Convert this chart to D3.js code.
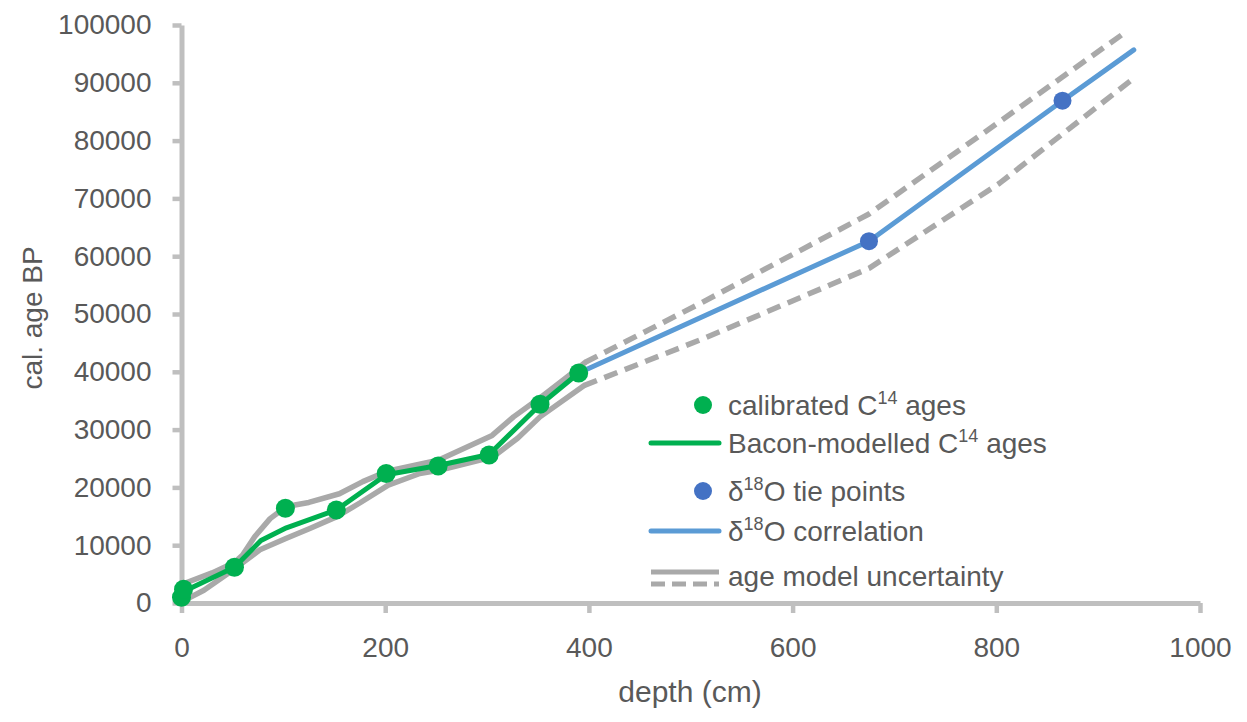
<!DOCTYPE html>
<html>
<head>
<meta charset="utf-8">
<script src="https://cdn.jsdelivr.net/npm/d3@7"></script>
<style>
  html, body { margin: 0; padding: 0; background: #ffffff; }
  svg { display: block; font-family: "Liberation Sans", Arial, sans-serif; }
</style>
</head>
<body>
<svg id="chart" width="1247" height="722"></svg>
<script>
// ---------------- data ----------------
const xTicks = [0, 200, 400, 600, 800, 1000];
const yTicks = [0, 10000, 20000, 30000, 40000, 50000, 60000, 70000, 80000, 90000, 100000];

// calibrated C14 ages (green dots)
const c14Depth = [0, 2, 52, 102, 152, 201, 252, 302, 352, 390];
const c14Age   = [1000, 2400, 6200, 16400, 16100, 22400, 23700, 25600, 34400, 39800];

// Bacon-modelled C14 ages (green line)
const baconDepth = [0, 52, 78, 103, 152, 201, 252, 302, 352, 390];
const baconAge   = [1800, 6200, 10800, 13000, 16100, 22200, 23800, 25700, 34300, 39800];

// d18O tie points (blue dots)
const tieDepth = [675, 865];
const tieAge   = [62600, 86900];

// d18O correlation (blue line)
const corrDepth = [390, 675, 865, 935];
const corrAge   = [39800, 62600, 86900, 95700];

// age model uncertainty, C14 part (solid grey)
const upperDepth = [0, 30, 52, 60, 72, 87, 103, 125, 155, 178, 202, 252, 305, 326, 352, 385, 396];
const upperAge   = [3200, 5200, 7000, 8300, 11500, 14600, 16700, 17400, 18900, 21000, 22800, 24700, 29000, 32200, 35500, 40000, 41600];
const lowerDepth = [0, 22, 52, 77, 103, 126, 152, 175, 203, 234, 254, 306, 330, 352, 395];
const lowerAge   = [200, 2200, 5900, 9200, 11200, 12900, 14900, 17300, 20400, 22400, 23000, 25300, 28500, 32200, 37600];

// age model uncertainty, d18O part (dashed grey)
const upperDashDepth = [396, 509, 675, 805, 928];
const upperDashAge   = [41600, 51800, 67300, 83500, 98900];
const lowerDashDepth = [395, 509, 563, 675, 803, 935];
const lowerDashAge   = [37600, 45500, 49500, 57900, 72600, 90800];

// legend
const legendLabels = [
  ["calibrated C", "14", " ages"],
  ["Bacon-modelled C", "14", " ages"],
  ["δ", "18", "O tie points"],
  ["δ", "18", "O correlation"],
  ["age model uncertainty", "", ""]
];

// ---------------- styles ----------------
const TEXT = "#595959";
const AXIS = "#bfbfbf";
const UNC = "#a9a9a9";
const GREEN = "#00b050";
const BLUE_LINE = "#5b9bd5";
const BLUE_DOT = "#4472c4";

const svg = d3.select("#chart");

const x = d3.scaleLinear().domain([0, 1000]).range([181.5, 1200]);
const y = d3.scaleLinear().domain([0, 100000]).range([603, 25]);

const zip = (a, b) => a.map((d, i) => [d, b[i]]);
const line = d3.line().x(d => x(d[0])).y(d => y(d[1]));

// ---------------- axes ----------------
const xAxis = svg.append("g")
  .attr("transform", `translate(0,${y(0)})`)
  .call(d3.axisBottom(x).tickValues(xTicks).tickFormat(d3.format("d"))
        .tickSize(10).tickSizeOuter(0).tickPadding(24));
const yAxis = svg.append("g")
  .attr("transform", `translate(${x(0)},0)`)
  .call(d3.axisLeft(y).tickValues(yTicks).tickFormat(d3.format("d"))
        .tickSize(9).tickSizeOuter(0).tickPadding(21));

[xAxis, yAxis].forEach(g => {
  g.select(".domain").attr("stroke", AXIS).attr("stroke-width", 5);
  g.selectAll(".tick line").attr("stroke", AXIS).attr("stroke-width", 4.5);
  g.selectAll(".tick text").attr("fill", TEXT)
    .style("font-size", "28px").style("font-family", "'Liberation Sans', Arial, sans-serif");
});

// axis titles
svg.append("text")
  .attr("x", 690).attr("y", 702)
  .attr("text-anchor", "middle")
  .attr("fill", TEXT).style("font-size", "30px")
  .text("depth (cm)");
svg.append("text")
  .attr("transform", "translate(42,318) rotate(-90)")
  .attr("text-anchor", "middle")
  .attr("fill", TEXT).style("font-size", "28px")
  .text("cal. age BP");

// ---------------- series ----------------
const plot = svg.append("g");

// uncertainty solid
[zip(upperDepth, upperAge), zip(lowerDepth, lowerAge)].forEach(pts => {
  plot.append("path").datum(pts).attr("d", line)
    .attr("fill", "none").attr("stroke", UNC).attr("stroke-width", 5.5)
    .attr("stroke-linejoin", "round").attr("stroke-linecap", "round");
});
// uncertainty dashed
[zip(upperDashDepth, upperDashAge), zip(lowerDashDepth, lowerDashAge)].forEach(pts => {
  plot.append("path").datum(pts).attr("d", line)
    .attr("fill", "none").attr("stroke", UNC).attr("stroke-width", 5.5)
    .attr("stroke-dasharray", "14,8").attr("stroke-linejoin", "round");
});

// Bacon model line
plot.append("path").datum(zip(baconDepth, baconAge)).attr("d", line)
  .attr("fill", "none").attr("stroke", GREEN).attr("stroke-width", 5)
  .attr("stroke-linejoin", "round").attr("stroke-linecap", "round");

// d18O correlation line
plot.append("path").datum(zip(corrDepth, corrAge)).attr("d", line)
  .attr("fill", "none").attr("stroke", BLUE_LINE).attr("stroke-width", 5)
  .attr("stroke-linejoin", "round").attr("stroke-linecap", "round");

// C14 dots
plot.selectAll("circle.c14").data(zip(c14Depth, c14Age)).enter()
  .append("circle").attr("class", "c14")
  .attr("cx", d => x(d[0])).attr("cy", d => y(d[1])).attr("r", 9.5)
  .attr("fill", GREEN);

// tie points
plot.selectAll("circle.tie").data(zip(tieDepth, tieAge)).enter()
  .append("circle").attr("class", "tie")
  .attr("cx", d => x(d[0])).attr("cy", d => y(d[1])).attr("r", 9)
  .attr("fill", BLUE_DOT);

// ---------------- legend ----------------
const legend = svg.append("g");
const rowY = [405, 443, 491, 531, 576];
const symX0 = 651, symX1 = 719, symMid = 703, textX = 728;

legend.append("circle").attr("cx", symMid).attr("cy", rowY[0]).attr("r", 9).attr("fill", GREEN);
legend.append("line").attr("x1", symX0).attr("x2", symX1).attr("y1", rowY[1]).attr("y2", rowY[1])
  .attr("stroke", GREEN).attr("stroke-width", 5).attr("stroke-linecap", "round");
legend.append("circle").attr("cx", symMid).attr("cy", rowY[2]).attr("r", 9).attr("fill", BLUE_DOT);
legend.append("line").attr("x1", symX0).attr("x2", symX1).attr("y1", rowY[3]).attr("y2", rowY[3])
  .attr("stroke", BLUE_LINE).attr("stroke-width", 5).attr("stroke-linecap", "round");
legend.append("line").attr("x1", symX0).attr("x2", symX1).attr("y1", rowY[4] - 4).attr("y2", rowY[4] - 4)
  .attr("stroke", UNC).attr("stroke-width", 5);
legend.append("line").attr("x1", symX0).attr("x2", symX1).attr("y1", rowY[4] + 8).attr("y2", rowY[4] + 8)
  .attr("stroke", UNC).attr("stroke-width", 5).attr("stroke-dasharray", "14,7");

legendLabels.forEach((parts, i) => {
  const t = legend.append("text")
    .attr("x", textX).attr("y", rowY[i] + 9.5)
    .attr("fill", TEXT).style("font-size", "28px");
  t.append("tspan").text(parts[0]);
  if (parts[1]) {
    t.append("tspan").attr("dy", -11).style("font-size", "18px").text(parts[1]);
    t.append("tspan").attr("dy", 11).text(parts[2]);
  }
});
</script>
</body>
</html>
